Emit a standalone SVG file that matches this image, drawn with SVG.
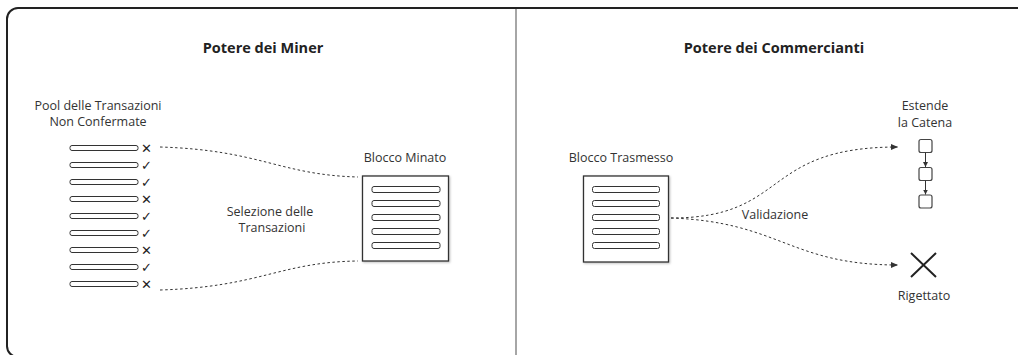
<svg xmlns="http://www.w3.org/2000/svg" width="1018" height="355" viewBox="0 0 1018 355">
<style>
text{font-family:"Open Sans","Noto Sans","Liberation Sans",sans-serif;fill:#333;font-size:12.5px;text-anchor:middle}
.title{font-size:14.5px;font-weight:bold;fill:#222}
.tx{fill:none;stroke:#333;stroke-width:1}
.blk{fill:#fff;stroke:#333;stroke-width:1.3;filter:url(#sh)}
.dash{fill:none;stroke:#333;stroke-width:1;stroke-dasharray:2.5,2.5}
.mk{font-family:"DejaVu Sans",sans-serif;font-size:13px;text-anchor:start;fill:#222}
.sq{fill:#fff;stroke:#444;stroke-width:1.2}
</style>
<defs>
<filter id="sh" x="-10%" y="-10%" width="125%" height="125%"><feDropShadow dx="1" dy="1" stdDeviation="1" flood-color="#000" flood-opacity="0.25"/></filter>
<marker id="ah" markerWidth="8" markerHeight="6" refX="7" refY="3" orient="auto" markerUnits="userSpaceOnUse"><path d="M0,0 L7,3 L0,6 z" fill="#333"/></marker>
<marker id="ah2" markerWidth="6" markerHeight="5" refX="5" refY="2.5" orient="auto" markerUnits="userSpaceOnUse"><path d="M0,0 L5,2.5 L0,5 z" fill="#333"/></marker>
</defs>
<rect x="7" y="8" width="1030" height="349" rx="11" fill="#fff" stroke="#222" stroke-width="2"/>
<line x1="516" y1="9" x2="516" y2="355" stroke="#888" stroke-width="1.5"/>
<text class="title" x="263" y="53">Potere dei Miner</text>
<text class="title" x="774" y="53">Potere dei Commercianti</text>

<g id="pool">
<text x="98" y="110">Pool delle Transazioni</text>
<text x="98" y="126">Non Confermate</text>
<rect class="tx" x="70" y="145.5" width="68" height="5" rx="2"/>
<rect class="tx" x="70" y="162.5" width="68" height="5" rx="2"/>
<rect class="tx" x="70" y="179.5" width="68" height="5" rx="2"/>
<rect class="tx" x="70" y="196.5" width="68" height="5" rx="2"/>
<rect class="tx" x="70" y="213.5" width="68" height="5" rx="2"/>
<rect class="tx" x="70" y="230.5" width="68" height="5" rx="2"/>
<rect class="tx" x="70" y="247.5" width="68" height="5" rx="2"/>
<rect class="tx" x="70" y="264.5" width="68" height="5" rx="2"/>
<rect class="tx" x="70" y="281.5" width="68" height="5" rx="2"/>
<text class="mk" x="141" y="153">✕</text>
<text class="mk" x="141" y="170">✓</text>
<text class="mk" x="141" y="187">✓</text>
<text class="mk" x="141" y="204">✕</text>
<text class="mk" x="141" y="221">✓</text>
<text class="mk" x="141" y="238">✓</text>
<text class="mk" x="141" y="255">✕</text>
<text class="mk" x="141" y="272">✓</text>
<text class="mk" x="141" y="289">✕</text>
</g>

<g id="blocco-minato">
<text x="405" y="162">Blocco Minato</text>
<rect class="blk" x="362.5" y="176" width="86" height="85"/>
<rect class="tx" x="372" y="186.5" width="68" height="6" rx="2"/>
<rect class="tx" x="372" y="200.5" width="68" height="6" rx="2"/>
<rect class="tx" x="372" y="214.5" width="68" height="6" rx="2"/>
<rect class="tx" x="372" y="228.5" width="68" height="6" rx="2"/>
<rect class="tx" x="372" y="242.5" width="68" height="6" rx="2"/>
</g>

<g id="blocco-trasmesso">
<text x="621" y="162">Blocco Trasmesso</text>
<rect class="blk" x="583.5" y="176" width="85" height="86"/>
<rect class="tx" x="592.5" y="186.5" width="67" height="6" rx="2"/>
<rect class="tx" x="592.5" y="200.5" width="67" height="6" rx="2"/>
<rect class="tx" x="592.5" y="214.5" width="67" height="6" rx="2"/>
<rect class="tx" x="592.5" y="228.5" width="67" height="6" rx="2"/>
<rect class="tx" x="592.5" y="242.5" width="67" height="6" rx="2"/>
</g>

<g id="catena">
<text x="925" y="110">Estende</text>
<text x="925" y="127">la Catena</text>
<rect class="sq" x="919" y="139.5" width="13" height="13" rx="2"/>
<rect class="sq" x="919" y="167.5" width="13" height="13" rx="2"/>
<rect class="sq" x="919" y="195" width="13" height="13" rx="2"/>
<line x1="925.5" y1="152.5" x2="925.5" y2="167" stroke="#333" stroke-width="1" marker-end="url(#ah2)"/>
<line x1="925.5" y1="180.5" x2="925.5" y2="194.5" stroke="#333" stroke-width="1" marker-end="url(#ah2)"/>
</g>

<g id="rigettato">
<path d="M911,253 L936,277 M936,253 L911,277" stroke="#222" stroke-width="2" fill="none"/>
<text x="924" y="300">Rigettato</text>
</g>

<g id="connectors">
<path class="dash" d="M160,147 C260,150 280,175 358,177"/>
<path class="dash" d="M160,290 C260,287 280,262 358,261"/>
<path class="dash" d="M671,218 C790,218 760,147 898,147" marker-end="url(#ah)"/>
<path class="dash" d="M671,218 C780,222 790,265 898,265" marker-end="url(#ah)"/>
<text x="270" y="216">Selezione delle</text>
<text x="272" y="232">Transazioni</text>
<text x="775" y="219">Validazione</text>
</g>
</svg>
